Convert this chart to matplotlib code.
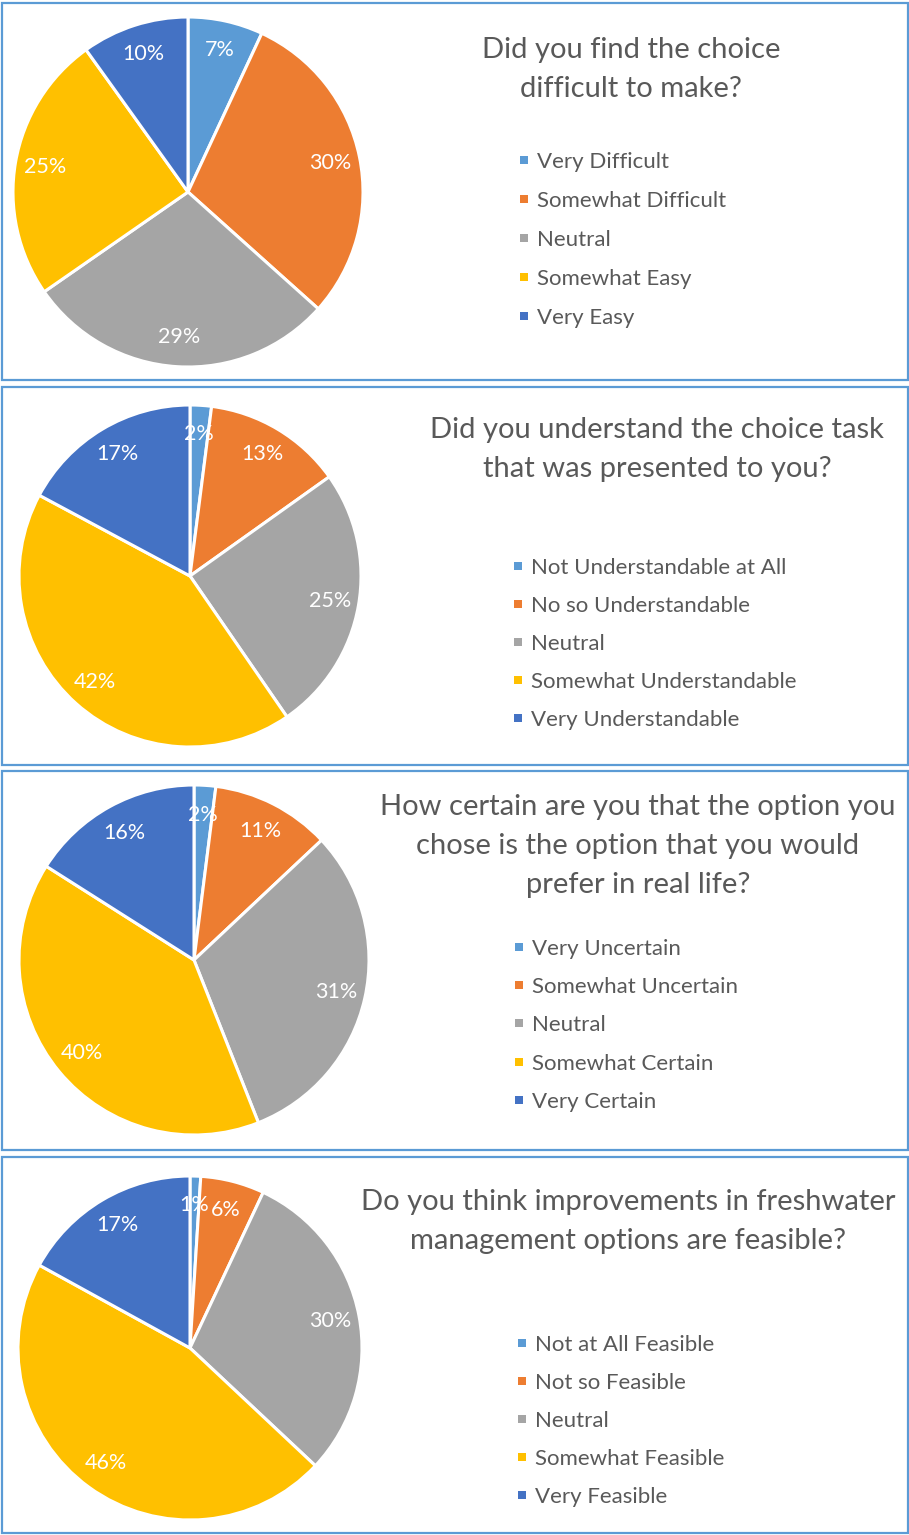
import matplotlib
matplotlib.use('Agg')
import matplotlib.pyplot as plt
from matplotlib.patches import Rectangle

plt.rcParams['font.family'] = ['Lato', 'DejaVu Sans']

W, H = 909, 1535

colors = ['#5B9BD5', '#ED7D31', '#A5A5A5', '#FFC000', '#4472C4']
text_grey = '#595959'
border_blue = '#5B9BD5'

# survey answers (percent), clockwise from 12 o'clock
q1_title = 'Did you find the choice\ndifficult to make?'
q1_labels = ['Very Difficult', 'Somewhat Difficult', 'Neutral', 'Somewhat Easy', 'Very Easy']
q1_values = [7, 30, 29, 25, 10]

q2_title = 'Did you understand the choice task\nthat was presented to you?'
q2_labels = ['Not Understandable at All', 'No so Understandable', 'Neutral',
             'Somewhat Understandable', 'Very Understandable']
q2_values = [2, 13, 25, 42, 17]

q3_title = 'How certain are you that the option you\nchose is the option that you would\nprefer in real life?'
q3_labels = ['Very Uncertain', 'Somewhat Uncertain', 'Neutral', 'Somewhat Certain', 'Very Certain']
q3_values = [2, 11, 31, 40, 16]

q4_title = 'Do you think improvements in freshwater\nmanagement options are feasible?'
q4_labels = ['Not at All Feasible', 'Not so Feasible', 'Neutral', 'Somewhat Feasible', 'Very Feasible']
q4_values = [1, 6, 30, 46, 17]

# layout in pixels: panel box, pie centre/radius, title centre, legend start
panels = [
    dict(title=q1_title, labels=q1_labels, values=q1_values,
         box=(2, 3, 906, 377), pie=(188, 192, 175), tx=631, ty=50,
         mx=524, ly=162, lstep=39),
    dict(title=q2_title, labels=q2_labels, values=q2_values,
         box=(2, 387, 906, 378), pie=(190, 576, 171), tx=657, ty=430,
         mx=518, ly=568, lstep=38),
    dict(title=q3_title, labels=q3_labels, values=q3_values,
         box=(2, 771, 906, 379), pie=(194, 960, 175), tx=638, ty=807,
         mx=519, ly=949, lstep=38.2),
    dict(title=q4_title, labels=q4_labels, values=q4_values,
         box=(2, 1157, 906, 376), pie=(190, 1348, 172), tx=628, ty=1202,
         mx=522, ly=1345, lstep=38),
]

fig = plt.figure(figsize=(W / 100, H / 100), dpi=100)
fig.patch.set_facecolor('white')

# overlay axes in pixel coords for borders, titles, legends
ov = fig.add_axes([0, 0, 1, 1])
ov.set_xlim(0, W)
ov.set_ylim(H, 0)
ov.axis('off')

for p in panels:
    x0, y0, bw, bh = p['box']
    ov.add_patch(Rectangle((x0, y0), bw, bh, fill=False, edgecolor=border_blue, linewidth=1.6))

    for i, line in enumerate(p['title'].split('\n')):
        ov.text(p['tx'], p['ty'] + i * 39, line, ha='center', va='center',
                fontsize=21, color=text_grey)

    for i, (lab, c) in enumerate(zip(p['labels'], colors)):
        yy = p['ly'] + i * p['lstep']
        ov.add_patch(Rectangle((p['mx'] - 4, yy - 6), 8, 8, facecolor=c, edgecolor='none'))
        ov.text(p['mx'] + 13, yy, lab, ha='left', va='center', fontsize=16, color=text_grey)

    cx, cy, r = p['pie']
    ax = fig.add_axes([(cx - r) / W, 1 - (cy + r) / H, 2 * r / W, 2 * r / H])
    wedges, texts, autotexts = ax.pie(
        p['values'], colors=colors, startangle=90, counterclock=False,
        autopct=lambda pct: '', pctdistance=0.83,
        wedgeprops=dict(edgecolor='white', linewidth=2.2),
        textprops=dict(color='white', fontsize=15.5))
    for t, v in zip(autotexts, p['values']):
        t.set_text('%d%%' % v)
    ax.set_xlim(-1, 1)
    ax.set_ylim(-1, 1)
    ax.set_aspect('equal')
    ax.axis('off')

fig.savefig('out.png', dpi=100)
